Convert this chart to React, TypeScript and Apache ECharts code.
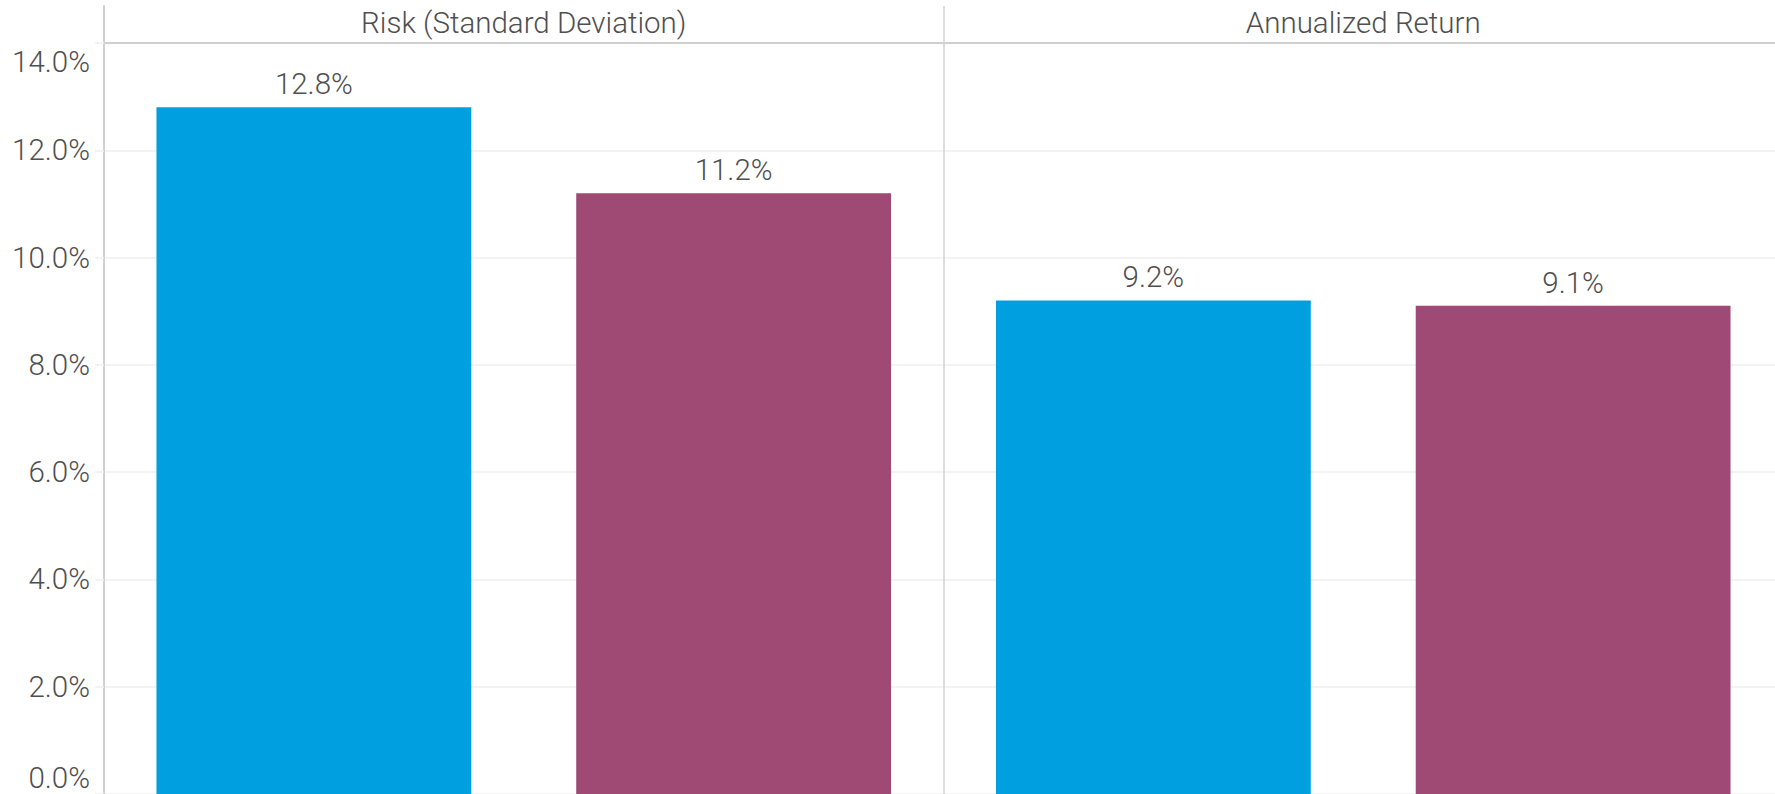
import React, { useEffect, useRef } from "react";
import * as echarts from "echarts";

const panelTitles = ["Risk (Standard Deviation)", "Annualized Return"];
const groups = ["Portfolio", "Benchmark"];
const riskValues = [12.8, 11.2];
const returnValues = [9.2, 9.1];
const barColors = ["#009FDF", "#9E4A75"];
const yMin = 0;
const yMax = 14;
const yStep = 2;

const FONT = "Roboto";
const TEXT = "#4f4f4f";
const FS = 29.5;
const FW = 300;

export default function App() {
  const ref = useRef<HTMLDivElement>(null);
  useEffect(() => {
    if (!ref.current) return;
    const chart = echarts.init(ref.current, null, { renderer: "svg" });
    const plotLeft = 104;
    const plotTop = 43;
    const plotBottom = 794;
    const panelW = 839.5;

    const valueAxisBase = {
      type: "value",
      min: yMin,
      max: yMax,
      interval: yStep,
      splitLine: { show: true, lineStyle: { color: "#efefef", width: 1.5 } },
    };

    const mkSeries = (idx: number, values: number[]) => ({
      type: "bar",
      xAxisIndex: idx,
      yAxisIndex: idx,
      barWidth: "75%",
      data: values.map((v, i) => ({ value: v, itemStyle: { color: barColors[i] } })),
      label: {
        show: true,
        position: "top",
        distance: 8,
        formatter: (p: any) => `${p.value.toFixed(1)}%`,
        fontFamily: FONT,
        fontSize: FS,
        fontWeight: FW,
        color: TEXT,
      },
    });

    chart.setOption({
      animation: false,
      textStyle: { fontFamily: FONT },
      grid: [
        { left: plotLeft, top: 6, width: panelW * 2, height: plotTop - 6 },
        { left: plotLeft, top: plotTop, width: panelW, height: plotBottom - plotTop },
        { left: plotLeft + panelW, top: plotTop, width: panelW, height: plotBottom - plotTop },
      ],
      xAxis: [
        {
          type: "category",
          gridIndex: 0,
          data: panelTitles,
          position: "bottom",
          axisLine: { show: true, lineStyle: { color: "#d0d0d0", width: 2 } },
          axisTick: { show: false },
          splitLine: { show: true, lineStyle: { color: "#d0d0d0", width: 1.5 } },
          axisLabel: {
            inside: true,
            margin: 5,
            interval: 0,
            fontFamily: FONT,
            fontSize: FS,
            fontWeight: FW,
            color: TEXT,
          },
        },
        {
          type: "category",
          gridIndex: 1,
          data: groups,
          axisLine: { show: false },
          axisTick: { show: false },
          axisLabel: { show: false },
        },
        {
          type: "category",
          gridIndex: 2,
          data: groups,
          axisLine: { show: false },
          axisTick: { show: false },
          axisLabel: { show: false },
        },
      ],
      yAxis: [
        {
          type: "value",
          gridIndex: 0,
          min: 0,
          max: 1,
          axisLine: { show: true, lineStyle: { color: "#d0d0d0", width: 2 } },
          axisTick: { show: false },
          axisLabel: { show: false },
          splitLine: { show: false },
        },
        {
          ...valueAxisBase,
          gridIndex: 1,
          axisLine: { show: true, lineStyle: { color: "#d0d0d0", width: 2 } },
          axisTick: { show: true, length: 9, lineStyle: { color: "#efefef", width: 1.5 } },
          axisLabel: {
            margin: 14,
            fontFamily: FONT,
            fontSize: FS,
            fontWeight: FW,
            color: TEXT,
            formatter: (v: number) => {
              const s = `${v.toFixed(1)}%`;
              if (v === yMin) return `{lo|${s}}`;
              if (v === yMax) return `{hi|${s}}`;
              return `{n|${s}}`;
            },
            rich: {
              n: { fontFamily: FONT, fontSize: FS, fontWeight: FW, color: TEXT },
              lo: { fontFamily: FONT, fontSize: FS, fontWeight: FW, color: TEXT, padding: [0, 0, 32, 0] },
              hi: { fontFamily: FONT, fontSize: FS, fontWeight: FW, color: TEXT, padding: [38, 0, 0, 0] },
            },
          },
        },
        {
          ...valueAxisBase,
          gridIndex: 2,
          axisLine: { show: true, lineStyle: { color: "#d0d0d0", width: 1.5 } },
          axisTick: { show: false },
          axisLabel: { show: false },
        },
      ],
      series: [mkSeries(1, riskValues), mkSeries(2, returnValues)],
    });
    return () => chart.dispose();
  }, []);
  return (
    <div
      ref={ref}
      style={{ position: "fixed", left: 0, top: 0, width: 1800, height: 794, background: "#ffffff" }}
    />
  );
}
